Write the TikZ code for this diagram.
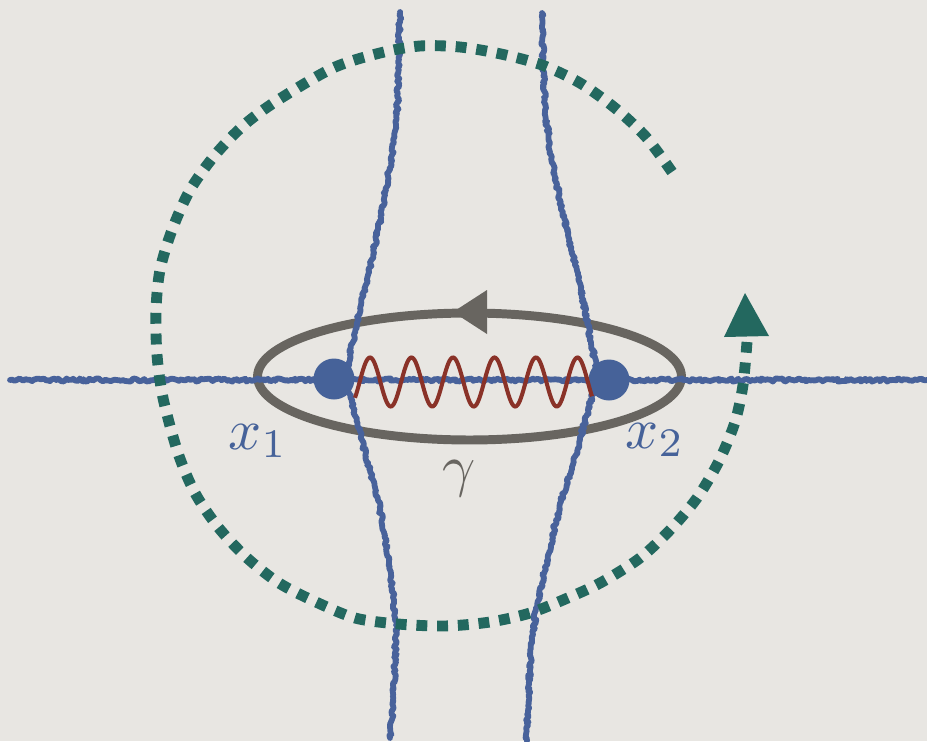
\documentclass[tikz,border=0pt]{standalone}
\usetikzlibrary{decorations.pathmorphing}
\definecolor{bg}{RGB}{232,230,226}
\definecolor{lineblue}{RGB}{72,98,155}
\definecolor{dotblue}{RGB}{70,98,153}
\definecolor{loopgray}{RGB}{104,101,96}
\definecolor{wavered}{RGB}{138,50,40}
\definecolor{circgreen}{RGB}{35,104,95}
\begin{document}
\begin{tikzpicture}[x=0.02cm,y=-0.02cm,
  roughline/.style={draw=lineblue, line width=3.3pt, line join=round, line cap=round, decorate, decoration={random steps, segment length=1.2pt, amplitude=0.9pt}},
  loopline/.style={draw=loopgray, line width=5.1pt},
  greendash/.style={draw=circgreen, line width=6.2pt, dash pattern=on 6.2pt off 5.6pt},
  dot/.style={circle, fill=dotblue, minimum size=0.82cm, inner sep=0pt},
  waveline/.style={draw=wavered, line width=2.3pt},
  lab/.style={scale=3.3, inner sep=0pt}]
\pgfmathsetseed{7}
\fill[bg] (0,0) rectangle (927,741);
\useasboundingbox (0,0) rectangle (927,741);
% loop gamma
\draw[loopline] (469.5,376.5) ellipse [x radius=4.24cm, y radius=1.27cm];
\fill[loopgray] (453,312) -- (487,290) -- (487,334) -- cycle;
% blue lines
\draw[roughline] (10,380) -- (927,380);
\draw[roughline] (400,12) -- (399,60) -- (397,110) -- (392,155) -- (384,200) -- (376,240) -- (368,275) -- (361,305) -- (355,330) -- (350,355) -- (347,378);
\draw[roughline] (346,382) -- (354,410) -- (362,440) -- (370,470) -- (378,500) -- (385,535) -- (390,570) -- (394,600) -- (396,625) -- (395,665) -- (393,700) -- (390,738);
\draw[roughline] (542,13) -- (543,60) -- (545,110) -- (551,155) -- (560,200) -- (568,235) -- (575,265) -- (582,295) -- (588,325) -- (593,350) -- (597,378);
\draw[roughline] (596,382) -- (588,410) -- (580,440) -- (572,467) -- (563,495) -- (555,525) -- (548,555) -- (542,583) -- (536,610) -- (532,640) -- (530,670) -- (528,705) -- (527,741);
% green dotted circle
\draw[greendash] plot[smooth] coordinates {(672,172) (646,137) (615,108) (580,83) (542,65) (501,54) (460,47) (420,46) (380,53) (333,68) (278,100) (244,125) (215,155) (190,190) (172,230) (160,270) (156,310) (157,355) (163,398) (178,453) (195,493) (218,527) (246,557) (279,583) (316,602) (355,618) (398,624) (445,626) (490,622) (530,613) (570,597) (602,582) (640,558) (670,530) (697,498) (719,461) (735,422) (743,385) (747,342)};
\fill[circgreen] (745,293) -- (769,336) -- (724,337) -- cycle;
% dots
\node[dot] (x1) at (334,379) {};
\node[dot] (x2) at (609,380) {};
% wave
\draw[waveline] plot[domain=355:592, samples=300] (\x,{382-24.5*cos((\x-370)/41.5*360)});
% labels
\node[lab, text=dotblue] (l1) at (258,441) {$x_1$};
\node[lab, text=dotblue] (l2) at (655,440) {$x_2$};
\node[lab, text=loopgray] (g) at (459,479) {$\gamma$};
\end{tikzpicture}
\end{document}
